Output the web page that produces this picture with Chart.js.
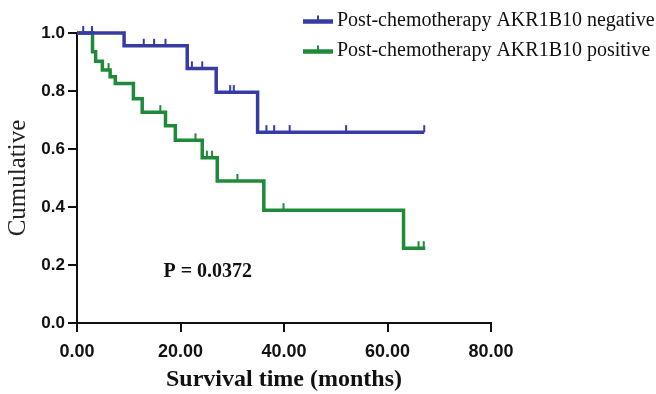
<!DOCTYPE html>
<html>
<head>
<meta charset="utf-8">
<script src="https://cdn.jsdelivr.net/npm/chart.js@4.4.1/dist/chart.umd.min.js"></script>
<style>
  html, body { margin: 0; padding: 0; background: #fff; }
  #wrap { width: 656px; height: 394px; }
</style>
</head>
<body>
<div id="wrap"><canvas id="kmChart" width="656" height="394"></canvas></div>
<script>
// Kaplan-Meier steps (months -> cumulative survival)
const negTimes = [0, 9.1, 21.3, 26.9, 34.9, 67.1];
const negSurv = [1.0, 0.956, 0.878, 0.796, 0.658, 0.658];
const negCensored = [1.2, 2.9, 12.9, 14.9, 17.1, 22.2, 24.2, 29.6, 30.3, 36.6, 38.1, 41.1, 52.0, 67.1];

const posTimes = [0, 3.0, 3.6, 4.9, 6.4, 7.4, 10.9, 12.6, 17.1, 19.0, 24.2, 27.1, 36.1, 63.1, 67.3];
const posSurv = [1.0, 0.935, 0.903, 0.872, 0.849, 0.826, 0.773, 0.727, 0.68, 0.63, 0.57, 0.49, 0.389, 0.258, 0.258];
const posCensored = [6.1, 16.1, 22.9, 25.1, 26.1, 31.0, 39.9, 66.0, 67.0];

const seriesNames = ['Post-chemotherapy AKR1B10 negative', 'Post-chemotherapy AKR1B10 positive'];
const xTicks = [0, 20, 40, 60, 80];
const yTicks = [0, 0.2, 0.4, 0.6, 0.8, 1.0];
const pValueText = 'P = 0.0372';

const BLUE = '#373ca2';
const GREEN = '#1e8a3a';

function survAt(times, surv, t) {
  let s = surv[0];
  for (let i = 0; i < times.length; i++) {
    if (times[i] <= t) s = surv[i];
  }
  return s;
}

function stepData(times, surv) {
  return times.map((t, i) => ({ x: t, y: surv[i] }));
}

function censorData(times, surv, cens) {
  return cens.map(t => ({ x: t, y: survAt(times, surv, t) }));
}

const curveStyle = {
  stepped: true,
  borderWidth: 3.5,
  pointRadius: 0,
  fill: false,
  clip: false
};

const tickStyle = {
  showLine: false,
  pointStyle: 'dash',
  rotation: -90,
  pointRadius: 7,
  pointBorderWidth: 2,
  clip: false
};

// legend + p value drawn on top, like the original figure
const annotations = {
  id: 'annotations',
  afterDraw(chart) {
    const ctx = chart.ctx;
    const colors = [BLUE, GREEN];
    const rowsY = [21.5, 51.5];
    ctx.save();
    seriesNames.forEach((name, i) => {
      const y = rowsY[i];
      ctx.strokeStyle = colors[i];
      ctx.lineWidth = 4.5;
      ctx.beginPath();
      ctx.moveTo(303, y);
      ctx.lineTo(333, y);
      ctx.stroke();
      ctx.lineWidth = 2;
      ctx.beginPath();
      ctx.moveTo(318, y);
      ctx.lineTo(318, y - 6);
      ctx.stroke();
      ctx.fillStyle = '#111';
      ctx.font = '20px "Liberation Serif", "Times New Roman", serif';
      ctx.textAlign = 'left';
      ctx.textBaseline = 'middle';
      ctx.fillText(name, 337, y - 1);
    });
    const xs = chart.scales.x, ys = chart.scales.y;
    ctx.fillStyle = '#111';
    ctx.font = 'bold 20px "Liberation Serif", "Times New Roman", serif';
    ctx.textAlign = 'left';
    ctx.textBaseline = 'alphabetic';
    ctx.fillText(pValueText, xs.getPixelForValue(16.7), ys.getPixelForValue(0.159));
    ctx.restore();
  }
};

const yTickFont = { family: '"Liberation Sans", Arial, sans-serif', size: 17, weight: 'bold' };
const xTickFont = { family: '"Liberation Sans", Arial, sans-serif', size: 18, weight: 'bold' };

new Chart(document.getElementById('kmChart'), {
  type: 'line',
  data: {
    datasets: [
      Object.assign({ label: seriesNames[0], data: stepData(negTimes, negSurv), borderColor: BLUE }, curveStyle),
      Object.assign({ label: seriesNames[1], data: stepData(posTimes, posSurv), borderColor: GREEN }, curveStyle),
      Object.assign({ label: 'neg censored', data: censorData(negTimes, negSurv, negCensored), pointBorderColor: BLUE }, tickStyle),
      Object.assign({ label: 'pos censored', data: censorData(posTimes, posSurv, posCensored), pointBorderColor: GREEN }, tickStyle)
    ]
  },
  options: {
    responsive: false,
    animation: false,
    events: [],
    layout: { padding: { left: 0, right: 165, top: 33, bottom: 0 } },
    plugins: { legend: { display: false }, tooltip: { enabled: false } },
    scales: {
      x: {
        type: 'linear',
        min: 0,
        max: 80,
        afterBuildTicks: s => { s.ticks = xTicks.map(v => ({ value: v })); },
        ticks: { callback: v => v.toFixed(2), color: '#111', font: xTickFont, padding: 9, maxRotation: 0 },
        grid: { display: true, drawOnChartArea: false, drawTicks: true, tickLength: 9, color: '#111', lineWidth: 2 },
        border: { display: true, color: '#111', width: 2 },
        title: {
          display: true,
          text: 'Survival time (months)',
          color: '#111',
          font: { family: '"Liberation Serif", "Times New Roman", serif', size: 24, weight: 'bold' },
          padding: { top: 0, bottom: 0 }
        },
        afterFit: s => { s.height = 71; }
      },
      y: {
        type: 'linear',
        min: 0,
        max: 1,
        afterBuildTicks: s => { s.ticks = yTicks.map(v => ({ value: v })); },
        ticks: { callback: v => v.toFixed(1), color: '#111', font: yTickFont, padding: 3 },
        grid: { display: true, drawOnChartArea: false, drawTicks: true, tickLength: 9, color: '#111', lineWidth: 2 },
        border: { display: true, color: '#111', width: 2 },
        title: {
          display: true,
          text: 'Cumulative',
          color: '#222',
          font: { family: '"Liberation Serif", "Times New Roman", serif', size: 25 },
          padding: { top: 3, bottom: 0 }
        },
        afterFit: s => { s.width = 77; }
      }
    }
  },
  plugins: [annotations]
});
</script>
</body>
</html>
